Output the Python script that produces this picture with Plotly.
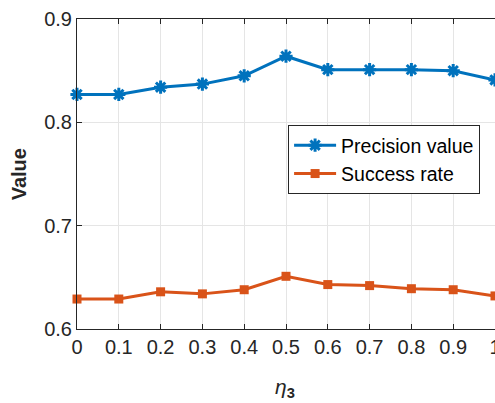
import plotly.graph_objects as go

# Parameter sweep over eta_3
eta3 = [0, 0.1, 0.2, 0.3, 0.4, 0.5, 0.6, 0.7, 0.8, 0.9, 1.0]
precision_value = [0.827, 0.827, 0.834, 0.837, 0.845, 0.864, 0.851, 0.851, 0.851, 0.850, 0.841]
success_rate = [0.629, 0.629, 0.636, 0.634, 0.638, 0.651, 0.643, 0.642, 0.639, 0.638, 0.632]

x_ticks = [0, 0.1, 0.2, 0.3, 0.4, 0.5, 0.6, 0.7, 0.8, 0.9, 1]
x_tick_text = ["0", "0.1", "0.2", "0.3", "0.4", "0.5", "0.6", "0.7", "0.8", "0.9", "1"]
y_ticks = [0.6, 0.7, 0.8, 0.9]

BLUE = "#0072BD"
ORANGE = "#D95319"
AXIS = "#262626"
FONT = "Liberation Sans, Arial, sans-serif"

fig = go.Figure()
fig.add_trace(go.Scatter(
    x=eta3, y=precision_value, name="Precision value",
    mode="lines+markers",
    line=dict(color=BLUE, width=3),
    marker=dict(symbol="asterisk-open", size=11, color=BLUE,
                line=dict(color=BLUE, width=3)),
    cliponaxis=False,
))
fig.add_trace(go.Scatter(
    x=eta3, y=success_rate, name="Success rate",
    mode="lines+markers",
    line=dict(color=ORANGE, width=3),
    marker=dict(symbol="square", size=9, color=ORANGE),
    cliponaxis=False,
))

fig.update_layout(
    width=495, height=403,
    margin=dict(l=77, r=0, t=19, b=74),
    paper_bgcolor="white", plot_bgcolor="white",
    font=dict(family=FONT, size=20, color=AXIS),
    showlegend=True,
    legend=dict(
        x=0.505, y=0.658, xanchor="left", yanchor="top",
        bgcolor="white", bordercolor=AXIS, borderwidth=1,
        font=dict(family=FONT, size=19.5, color="black"),
        tracegroupgap=0, itemwidth=42,
    ),
    xaxis=dict(
        range=[0, 1], tickvals=x_ticks, ticktext=x_tick_text,
        showgrid=True, gridcolor="#e5e5e5", gridwidth=1,
        showline=True, linecolor=AXIS, linewidth=1, mirror="ticks",
        ticks="inside", ticklen=5, tickcolor=AXIS,
        ticklabeloverflow="allow", automargin=False,
        zeroline=False, tickfont=dict(size=20, color=AXIS),
    ),
    yaxis=dict(
        range=[0.6, 0.9], tickvals=y_ticks, tickformat=".1f",
        showgrid=True, gridcolor="#e5e5e5", gridwidth=1,
        showline=True, linecolor=AXIS, linewidth=1, mirror=False,
        ticks="inside", ticklen=5, tickcolor=AXIS, automargin=False,
        zeroline=False, tickfont=dict(size=20, color=AXIS),
    ),
    annotations=[
        dict(text="<b>Value</b>", x=-0.138, y=0.5, xref="paper", yref="paper",
             xanchor="center", yanchor="middle", textangle=-90,
             showarrow=False, font=dict(family=FONT, size=20, color=AXIS)),
        dict(text="<i>η</i><sub><b>3</b></sub>", x=0.497, y=-0.19,
             xref="paper", yref="paper", xanchor="center", yanchor="middle",
             showarrow=False, font=dict(family=FONT, size=21, color=AXIS)),
    ],
)

fig.write_html("out.html")
